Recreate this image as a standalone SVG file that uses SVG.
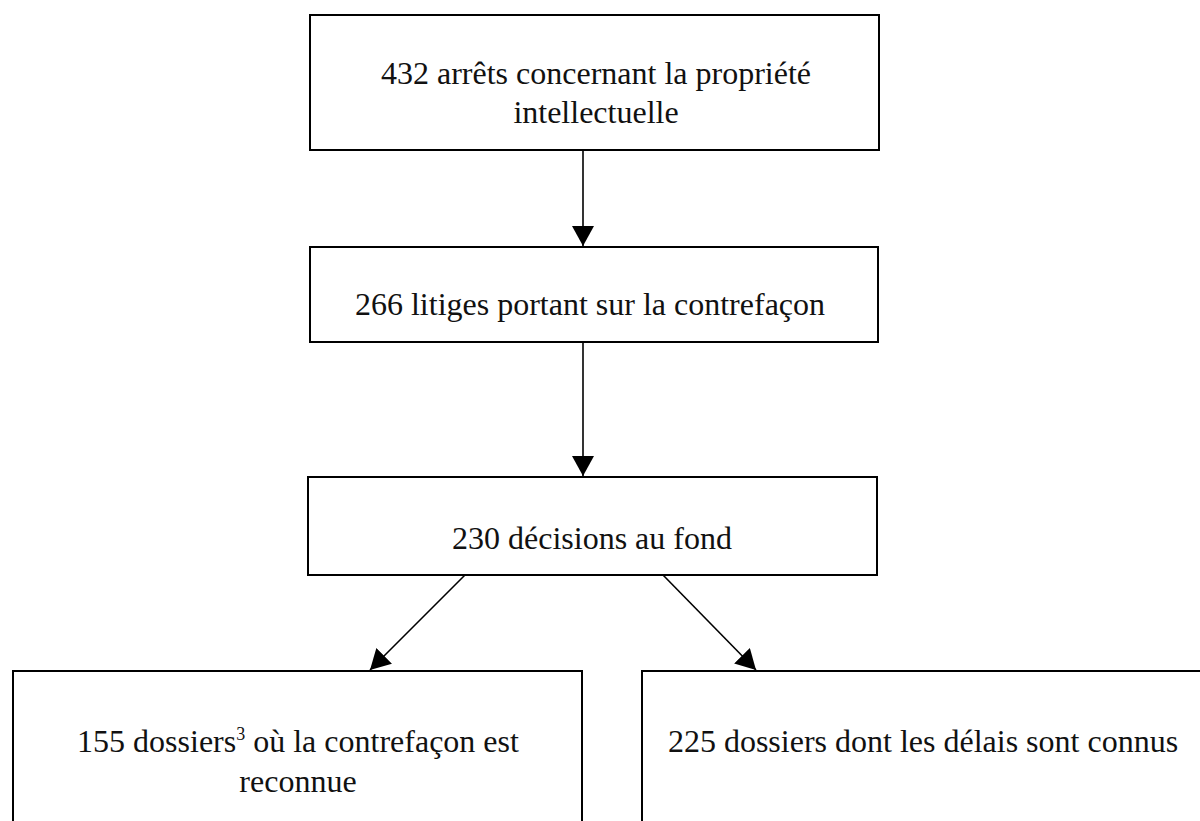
<svg xmlns="http://www.w3.org/2000/svg" width="1200" height="821" viewBox="0 0 1200 821">
<defs>
<style>
.box{fill:#fff;stroke:#000;stroke-width:2}
.t{font-family:'Liberation Serif','Times New Roman',serif;font-size:32px;fill:#111;text-anchor:middle}
.c{stroke:#000;stroke-width:1.6;fill:none}
</style>
<marker id="ah" markerUnits="userSpaceOnUse" markerWidth="22" markerHeight="22" viewBox="0 0 22 22" refX="20" refY="11" orient="auto">
<path d="M0,0 L20,11 L0,22 Z" fill="#000"/>
</marker>
</defs>
<rect width="1200" height="821" fill="#fff"/>
<g id="n1"><rect class="box" x="310" y="15" width="569" height="135"/>
<text class="t" x="596" y="84">432 arrêts concernant la propriété</text>
<text class="t" x="596" y="123">intellectuelle</text></g>
<g id="n2"><rect class="box" x="310" y="247" width="568" height="95"/>
<text class="t" x="590" y="315">266 litiges portant sur la contrefaçon</text></g>
<g id="n3"><rect class="box" x="308" y="477" width="569" height="98"/>
<text class="t" x="592" y="549">230 décisions au fond</text></g>
<g id="n4"><rect class="box" x="13" y="671" width="569" height="170"/>
<text class="t" x="298" y="752">155 dossiers<tspan font-size="18" dy="-12">3</tspan><tspan dy="12"> où la contrefaçon est</tspan></text>
<text class="t" x="298" y="792">reconnue</text></g>
<g id="n5"><rect class="box" x="642" y="671" width="580" height="170"/>
<text class="t" x="923" y="752">225 dossiers dont les délais sont connus</text></g>
<g id="connectors">
<line class="c" x1="583" y1="150" x2="583" y2="246" marker-end="url(#ah)"/>
<line class="c" x1="583" y1="342" x2="583" y2="476" marker-end="url(#ah)"/>
<line class="c" x1="465" y1="575" x2="370" y2="670" marker-end="url(#ah)"/>
<line class="c" x1="663" y1="575" x2="756" y2="670" marker-end="url(#ah)"/>
</g>
</svg>
